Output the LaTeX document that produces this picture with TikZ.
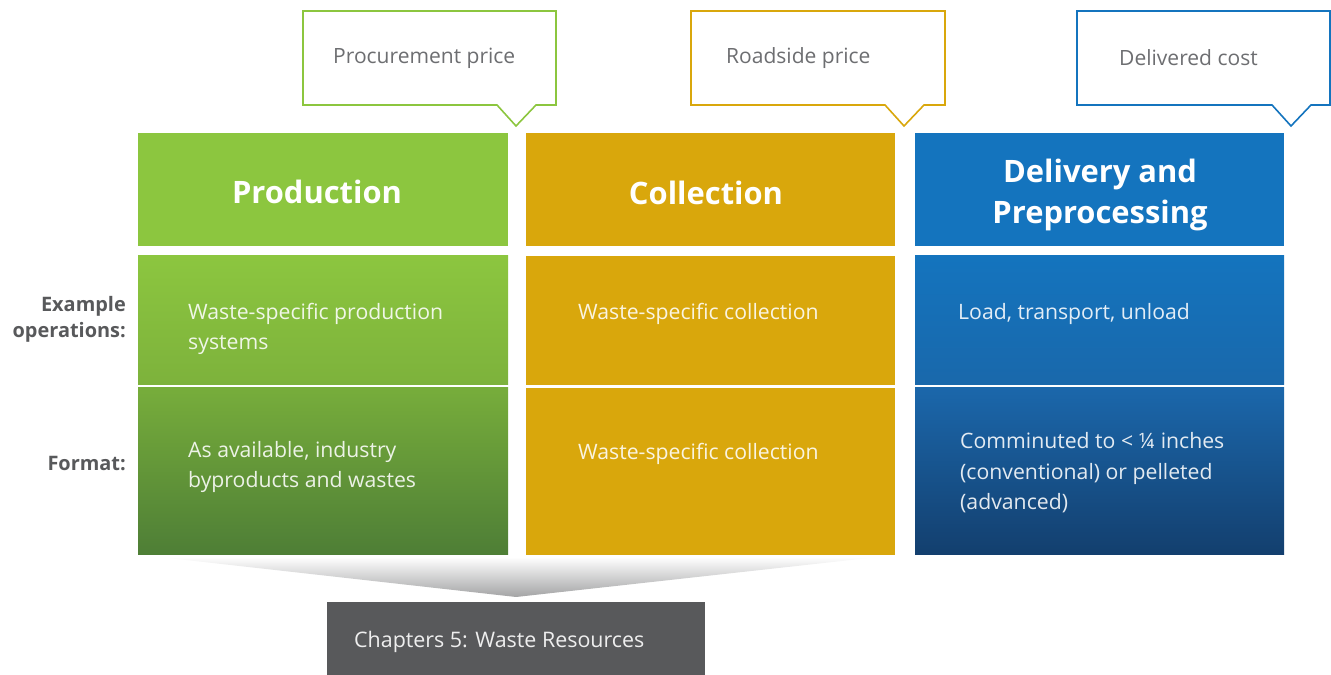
\documentclass[tikz,border=0pt]{standalone}
\usepackage{fontspec}
\setmainfont{Open Sans}
\usetikzlibrary{positioning}
\definecolor{grnA}{HTML}{8CC63F}
\definecolor{grnB}{HTML}{7DB23C}
\definecolor{grnC}{HTML}{77AD3B}
\definecolor{grnD}{HTML}{4E7E36}
\definecolor{gold}{HTML}{D9A70C}
\definecolor{bluA}{HTML}{1474BE}
\definecolor{bluB}{HTML}{1968AB}
\definecolor{bluC}{HTML}{1B67AB}
\definecolor{bluD}{HTML}{133F6E}
\definecolor{callgray}{HTML}{6D6E71}
\definecolor{darkgray}{HTML}{58595B}
\begin{document}
\begin{tikzpicture}[line join=miter,
  box/.style={draw=none,inner sep=0pt,anchor=south west},
  head/.style={text=white,align=center,font=\fontsize{31}{42}\selectfont\bfseries},
  body/.style={text=white,text opacity=0.88,align=left,anchor=west,inner sep=0pt,font=\fontsize{21.3}{30.5}\selectfont},
  side/.style={text=darkgray,align=right,anchor=east,inner sep=0pt,font=\fontsize{20}{26}\selectfont\bfseries},
  tag/.style={text=callgray,anchor=west,inner sep=0pt,font=\fontsize{21.1}{24}\selectfont},
  callout/.style={fill=white,line width=1.6bp},
]
\useasboundingbox (0bp,0bp) rectangle (1331bp,675bp);
%% callouts
\draw [callout,draw=grnA] (303bp,664bp) -- (556bp,664bp) -- (556bp,570bp) -- (536bp,570bp) -- (516bp,549bp) -- (497bp,570bp) -- (303bp,570bp) -- cycle;
\draw [callout,draw=gold] (691bp,664bp) -- (945bp,664bp) -- (945bp,570bp) -- (924bp,570bp) -- (904bp,549bp) -- (885bp,570bp) -- (691bp,570bp) -- cycle;
\draw [callout,draw=bluA] (1077bp,664bp) -- (1330bp,664bp) -- (1330bp,570bp) -- (1311bp,570bp) -- (1291bp,549bp) -- (1272bp,570bp) -- (1077bp,570bp) -- cycle;
\node (node_tag0) at (333bp,617bp) [tag] {Procurement price};
\node (node_tag1) at (726bp,617bp) [tag] {Roadside price};
\node (node_tag2) at (1119bp,617bp) [tag] {Delivered cost};
%% columns
\node (node_h0) at (138bp,429bp) [box,fill=grnA,minimum width=370bp,minimum height=113bp] {};
\node (node_h1) at (526bp,429bp) [box,fill=gold,minimum width=369bp,minimum height=113bp] {};
\node (node_h2) at (915bp,429bp) [box,fill=bluA,minimum width=369bp,minimum height=113bp] {};
\node (node_a0) at (138bp,290bp) [box,top color=grnA,bottom color=grnB,minimum width=370bp,minimum height=129bp] {};
\node (node_a1) at (526bp,290bp) [box,fill=gold,minimum width=369bp,minimum height=129bp] {};
\node (node_a2) at (915bp,290bp) [box,top color=bluA,bottom color=bluB,minimum width=369bp,minimum height=129bp] {};
\node (node_b0) at (138bp,120bp) [box,top color=grnC,bottom color=grnD,minimum width=370bp,minimum height=167bp] {};
\node (node_b1) at (526bp,120bp) [box,fill=gold,minimum width=369bp,minimum height=167bp] {};
\node (node_b2) at (915bp,120bp) [box,top color=bluC,bottom color=bluD,minimum width=369bp,minimum height=167bp] {};
%% texts
\node at (317bp,483bp) [head] {Production};
\node at (706bp,482bp) [head] {Collection};
\node at (1100bp,480bp) [head] {Delivery and\\Preprocessing};
\node at (188bp,346bp) [body] {Waste-specific production\\systems};
\node at (578bp,361bp) [body] {Waste-specific collection};
\node at (958bp,361bp) [body] {Load, transport, unload};
\node at (188bp,208bp) [body] {As available, industry\\byproducts and wastes};
\node at (578bp,221bp) [body] {Waste-specific collection};
\node at (960bp,202bp) [body] {Comminuted to < ¼ inches\\(conventional) or pelleted\\(advanced)};
\node (node_lab0) at (126bp,356bp) [side] {Example\\operations:};
\node (node_lab1) at (126bp,211bp) [side] {Format:};
%% funnel and chapter box
\shade [top color=white,bottom color=darkgray!55] (159bp,118bp) -- (878bp,118bp) -- (516bp,78bp) -- cycle;
\node (node_ch) at (327bp,0bp) [box,fill=darkgray,minimum width=378bp,minimum height=73bp] {};
\node at (354bp,33bp) [body,text opacity=0.9,font=\fontsize{21.5}{30}\selectfont] {Chapters 5: Waste Resources};
%
\end{tikzpicture}
\end{document}
